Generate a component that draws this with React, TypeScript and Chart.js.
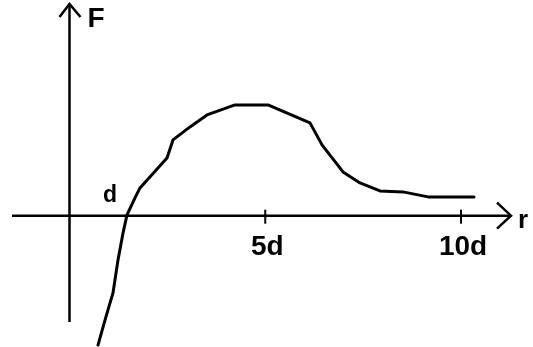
import React, { useEffect, useRef } from "react";
import { Chart, registerables } from "chart.js";

Chart.register(...registerables);

// Distance r (in units of d)
const rValues = [0.728, 0.907, 1.111, 1.239, 1.367, 1.469, 1.673, 1.801, 2.49, 2.644, 3.078, 3.512, 4.228, 5.07, 6.143, 6.45, 6.986, 7.42, 7.931, 8.519, 9.157, 10.332];
// Force F (arbitrary units)
const fValues = [-6.47, -5.22, -3.86, -2.22, -0.87, 0.04, 0.89, 1.39, 2.89, 3.79, 4.44, 5.04, 5.54, 5.54, 4.64, 3.54, 2.19, 1.64, 1.24, 1.19, 0.94, 0.94];

const tickValues = [5, 10];
const tickLabels = ["5d", "10d"];
const xLabel = "r";
const yLabel = "F";
const markerLabel = "d";
const markerValue = 1;

const X_MIN = -1.775;
const X_MAX = 11.839;
const Y_MIN = -6.565;
const Y_MAX = 10.785;

const axesPlugin = {
  id: "handAxes",
  beforeDatasetsDraw(chart: any) {
    const { ctx, scales } = chart;
    const xs = scales.x;
    const ys = scales.y;
    const x0 = xs.getPixelForValue(0);
    const y0 = ys.getPixelForValue(0);
    ctx.save();
    ctx.strokeStyle = "#000";
    ctx.fillStyle = "#000";
    ctx.lineWidth = 2.5;
    ctx.lineCap = "butt";
    ctx.lineJoin = "miter";

    // x axis
    const xLeft = 12;
    const xTip = 511;
    ctx.beginPath();
    ctx.moveTo(xLeft, y0);
    ctx.lineTo(xTip, y0);
    ctx.stroke();
    ctx.beginPath();
    ctx.moveTo(xTip - 14, y0 - 13);
    ctx.lineTo(xTip, y0);
    ctx.lineTo(xTip - 14, y0 + 13);
    ctx.stroke();

    // y axis
    const yTop = 4;
    const yBottom = 322;
    ctx.beginPath();
    ctx.moveTo(x0, yBottom);
    ctx.lineTo(x0, yTop);
    ctx.stroke();
    ctx.beginPath();
    ctx.moveTo(x0 - 10, yTop + 13);
    ctx.lineTo(x0, yTop);
    ctx.lineTo(x0 + 11, yTop + 13);
    ctx.stroke();

    // ticks and labels
    ctx.font = 'bold 28px "Liberation Sans", Arial, sans-serif';
    ctx.textAlign = "center";
    ctx.textBaseline = "alphabetic";
    tickValues.forEach((v, i) => {
      const px = xs.getPixelForValue(v);
      ctx.lineWidth = 2;
      ctx.beginPath();
      ctx.moveTo(px, y0 - 6);
      ctx.lineTo(px, y0 + 8);
      ctx.stroke();
      ctx.fillText(tickLabels[i], px + 2, y0 + 39);
    });

    // marker label d
    ctx.font = 'bold 23px "Liberation Sans", Arial, sans-serif';
    ctx.textAlign = "center";
    ctx.fillText(markerLabel, xs.getPixelForValue(markerValue) + 1.5, y0 - 14);

    // axis names
    ctx.font = 'bold 26px "Liberation Sans", Arial, sans-serif';
    ctx.textAlign = "left";
    ctx.fillText(xLabel, xTip + 7, y0 + 12);
    ctx.font = 'bold 28px "Liberation Sans", Arial, sans-serif';
    ctx.fillText(yLabel, x0 + 18, 27);
    ctx.restore();
  },
};

export default function App() {
  const ref = useRef<HTMLCanvasElement | null>(null);
  useEffect(() => {
    document.body.style.margin = "0";
    const canvas = ref.current;
    if (!canvas) return;
    const chart = new Chart(canvas, {
      type: "line",
      data: {
        datasets: [
          {
            data: rValues.map((r, i) => ({ x: r, y: fValues[i] })),
            borderColor: "#000",
            borderWidth: 3,
            pointRadius: 0,
            tension: 0,
            borderJoinStyle: "round",
            borderCapStyle: "round",
            fill: false,
          },
        ],
      },
      options: {
        animation: false,
        responsive: false,
        devicePixelRatio: 1,
        layout: { padding: 0 },
        plugins: { legend: { display: false }, tooltip: { enabled: false }, title: { display: false } },
        scales: {
          x: { type: "linear", min: X_MIN, max: X_MAX, display: false },
          y: { type: "linear", min: Y_MIN, max: Y_MAX, display: false },
        },
      },
      plugins: [axesPlugin],
    });
    return () => chart.destroy();
  }, []);
  return (
    <div style={{ width: 533, height: 347, background: "#fff" }}>
      <canvas ref={ref} width={533} height={347} style={{ display: "block" }} />
    </div>
  );
}
